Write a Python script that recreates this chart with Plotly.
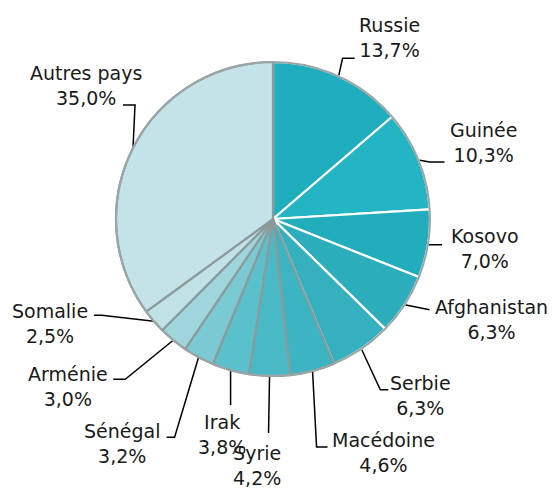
import math
import plotly.graph_objects as go

# ---- data ----
countries = ["Russie", "Guinée", "Kosovo", "Afghanistan", "Serbie", "Macédoine",
             "Syrie", "Irak", "Sénégal", "Arménie", "Somalie", "Autres pays"]
shares = [13.7, 10.3, 7.0, 6.3, 6.3, 4.6, 4.2, 3.8, 3.2, 3.0, 2.5, 35.0]

# ---- styling / layout ----
colors = ["#1eaebe", "#24b5c4", "#22adbc", "#2badbb", "#34b0be", "#3cb4c1",
          "#49b9c5", "#5ac0cb", "#7bcad3", "#9fd6dc", "#c0e2e6", "#c4e3e8"]
border_colors = ["white"] * 5 + ["#8c9a9c"] * 7

# page body has an 8px margin: the figure is sized to the visible area
OFF = 8
W, H = 557 - OFF, 492 - OFF
CX, CY, R = 273, 219, 157          # in window pixels

# leader layout per label: elbow offset from slice edge, horizontal tail, label offset from tail end
elbow_off = [(4, -18), (11, 2), (0, 1), (25, 5), (19, 41), (4, 76),
             (-1, 57), (0, 35), (-24, 80), (-48, 39), (-52, -6), (2, -43)]
tails = [12, 15, 14, 0, 8, 11, 0, 0, -8, -12, -8, -12]
label_off = [(35, -21), (39, -20), (43, 4), (62, 10), (32, 6), (56, 6),
             (-12, 33), (-9, 29), (-45, 6), (-45, 7), (-44, 8), (-37, -19)]

fig = go.Figure()

# leader lines and labels computed from the slice mid angles
total = sum(shares)
cum = 0.0
annotations = []
for i, (name, v) in enumerate(zip(countries, shares)):
    mid = (cum + v / 2) / total * 2 * math.pi
    cum += v
    sx = CX + R * math.sin(mid)
    sy = CY - R * math.cos(mid)
    ex, ey = sx + elbow_off[i][0], sy + elbow_off[i][1]
    tx, ty = ex + tails[i], ey
    fig.add_trace(go.Scatter(x=[sx, ex, tx], y=[sy, ey, ty], mode="lines",
                             line=dict(color="black", width=1.5),
                             hoverinfo="skip", showlegend=False))
    txt = f"{name}<br>{v:.1f}%".replace(".", ",")
    annotations.append(dict(x=tx + label_off[i][0], y=ty + label_off[i][1],
                            xref="x", yref="y", text=txt, showarrow=False,
                            xanchor="center", yanchor="middle", align="center",
                            font=dict(family="DejaVu Sans", size=19, color="#1a1a1a")))

dom_x = [(CX - OFF - R) / W, (CX - OFF + R) / W]
dom_y = [(H - (CY - OFF) - R) / H, (H - (CY - OFF) + R) / H]

fig.add_trace(go.Pie(labels=countries, values=shares, sort=False,
                     direction="clockwise", rotation=0,
                     marker=dict(colors=colors, line=dict(color=border_colors, width=2.2)),
                     textinfo="none", hoverinfo="label+percent",
                     domain=dict(x=dom_x, y=dom_y), showlegend=False))
# outer rim
fig.add_trace(go.Pie(labels=["rim"], values=[1], sort=False,
                     marker=dict(colors=["rgba(0,0,0,0)"], line=dict(color="#9aa5a7", width=2)),
                     textinfo="none", hoverinfo="skip",
                     domain=dict(x=dom_x, y=dom_y), showlegend=False))

fig.update_layout(
    width=W, height=H,
    margin=dict(l=0, r=0, t=0, b=0),
    paper_bgcolor="white", plot_bgcolor="white",
    xaxis=dict(range=[OFF, OFF + W], visible=False, fixedrange=True),
    yaxis=dict(range=[OFF + H, OFF], visible=False, fixedrange=True),
    annotations=annotations,
    showlegend=False,
)

fig.write_html("out.html")
